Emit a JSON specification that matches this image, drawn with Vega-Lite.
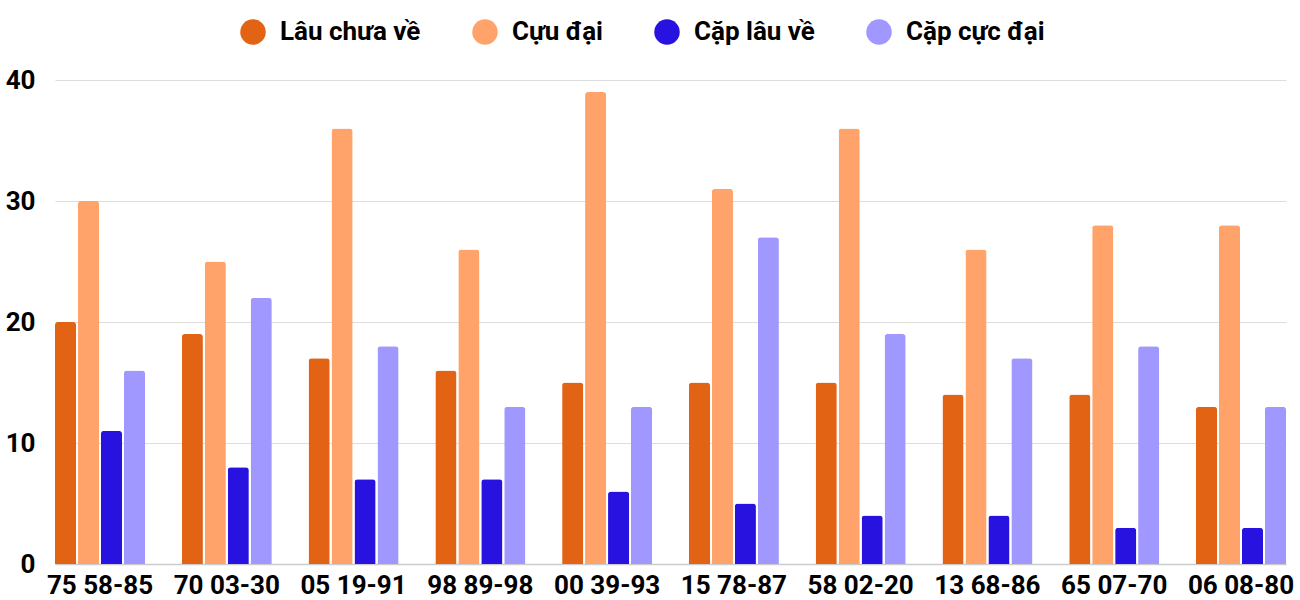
{
  "$schema": "https://vega.github.io/schema/vega-lite/v6.json",
  "width": 1231,
  "height": 484,
  "autosize": {"type": "none"},
  "padding": {"left": 55, "top": 80, "right": 14, "bottom": 36},
  "background": "white",
  "config": {
    "font": "Roboto",
    "view": {"stroke": null}
  },
  "data": {
    "values": [
      {"pair": "75 58-85", "series": "Lâu chưa về", "value": 20},
      {"pair": "75 58-85", "series": "Cựu đại", "value": 30},
      {"pair": "75 58-85", "series": "Cặp lâu về", "value": 11},
      {"pair": "75 58-85", "series": "Cặp cực đại", "value": 16},
      {"pair": "70 03-30", "series": "Lâu chưa về", "value": 19},
      {"pair": "70 03-30", "series": "Cựu đại", "value": 25},
      {"pair": "70 03-30", "series": "Cặp lâu về", "value": 8},
      {"pair": "70 03-30", "series": "Cặp cực đại", "value": 22},
      {"pair": "05 19-91", "series": "Lâu chưa về", "value": 17},
      {"pair": "05 19-91", "series": "Cựu đại", "value": 36},
      {"pair": "05 19-91", "series": "Cặp lâu về", "value": 7},
      {"pair": "05 19-91", "series": "Cặp cực đại", "value": 18},
      {"pair": "98 89-98", "series": "Lâu chưa về", "value": 16},
      {"pair": "98 89-98", "series": "Cựu đại", "value": 26},
      {"pair": "98 89-98", "series": "Cặp lâu về", "value": 7},
      {"pair": "98 89-98", "series": "Cặp cực đại", "value": 13},
      {"pair": "00 39-93", "series": "Lâu chưa về", "value": 15},
      {"pair": "00 39-93", "series": "Cựu đại", "value": 39},
      {"pair": "00 39-93", "series": "Cặp lâu về", "value": 6},
      {"pair": "00 39-93", "series": "Cặp cực đại", "value": 13},
      {"pair": "15 78-87", "series": "Lâu chưa về", "value": 15},
      {"pair": "15 78-87", "series": "Cựu đại", "value": 31},
      {"pair": "15 78-87", "series": "Cặp lâu về", "value": 5},
      {"pair": "15 78-87", "series": "Cặp cực đại", "value": 27},
      {"pair": "58 02-20", "series": "Lâu chưa về", "value": 15},
      {"pair": "58 02-20", "series": "Cựu đại", "value": 36},
      {"pair": "58 02-20", "series": "Cặp lâu về", "value": 4},
      {"pair": "58 02-20", "series": "Cặp cực đại", "value": 19},
      {"pair": "13 68-86", "series": "Lâu chưa về", "value": 14},
      {"pair": "13 68-86", "series": "Cựu đại", "value": 26},
      {"pair": "13 68-86", "series": "Cặp lâu về", "value": 4},
      {"pair": "13 68-86", "series": "Cặp cực đại", "value": 17},
      {"pair": "65 07-70", "series": "Lâu chưa về", "value": 14},
      {"pair": "65 07-70", "series": "Cựu đại", "value": 28},
      {"pair": "65 07-70", "series": "Cặp lâu về", "value": 3},
      {"pair": "65 07-70", "series": "Cặp cực đại", "value": 18},
      {"pair": "06 08-80", "series": "Lâu chưa về", "value": 13},
      {"pair": "06 08-80", "series": "Cựu đại", "value": 28},
      {"pair": "06 08-80", "series": "Cặp lâu về", "value": 3},
      {"pair": "06 08-80", "series": "Cặp cực đại", "value": 13}
    ]
  },
  "mark": {"type": "bar", "cornerRadiusTopLeft": 3, "cornerRadiusTopRight": 3},
  "encoding": {
    "x": {
      "field": "pair",
      "type": "nominal",
      "sort": null,
      "scale": {"paddingInner": 0.29, "paddingOuter": 0},
      "axis": {
        "title": null,
        "labelAngle": 0,
        "labelFontSize": 26,
        "labelFontWeight": "bold",
        "labelColor": "#000000",
        "labelPadding": 8,
        "ticks": false,
        "domain": true,
        "domainColor": "#cccccc",
        "domainWidth": 1.5
      }
    },
    "xOffset": {
      "field": "series",
      "type": "nominal",
      "sort": ["Lâu chưa về", "Cựu đại", "Cặp lâu về", "Cặp cực đại"],
      "scale": {"paddingInner": 0.08, "paddingOuter": 0}
    },
    "y": {
      "field": "value",
      "type": "quantitative",
      "scale": {"domain": [0, 40]},
      "axis": {
        "title": null,
        "values": [0, 10, 20, 30, 40],
        "labelFontSize": 26,
        "labelFontWeight": "bold",
        "labelColor": "#000000",
        "labelPadding": 20,
        "ticks": false,
        "domain": false,
        "gridColor": "#dddddd",
        "gridWidth": 1
      }
    },
    "color": {
      "field": "series",
      "type": "nominal",
      "scale": {
        "domain": ["Lâu chưa về", "Cựu đại", "Cặp lâu về", "Cặp cực đại"],
        "range": ["#E26313", "#FFA36A", "#2812E0", "#A098FF"]
      },
      "legend": {
        "title": null,
        "orient": "none",
        "direction": "horizontal",
        "legendX": 185,
        "legendY": -61,
        "symbolType": "circle",
        "symbolSize": 650,
        "symbolStrokeWidth": 0,
        "labelFontSize": 26,
        "labelFontWeight": "bold",
        "labelColor": "#000000",
        "labelOffset": 14,
        "columnPadding": 51
      }
    }
  }
}
